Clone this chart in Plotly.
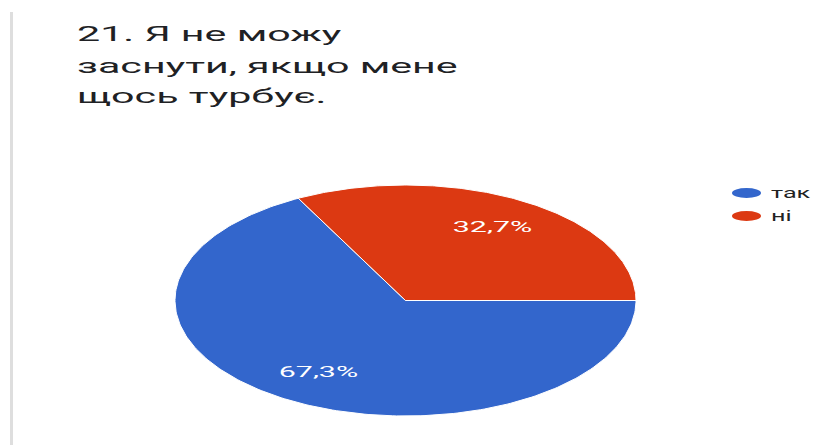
import numpy as np
import plotly.graph_objects as go

# Survey question and answers
title_lines = ["21. Я не можу", "заснути, якщо мене", "щось турбує."]
labels = ["так", "ні"]
shares = [67.3, 32.7]
colors = ["#3366cc", "#dc3912"]

W, H = 813, 445
# pie placement in pixels (centre, horizontal / vertical radius)
cx, cy, rx, ry = 405.5, 300.5, 230.5, 115.5

fig = go.Figure()

total = sum(shares)
start = 0.0  # first slice begins at 3 o'clock and runs clockwise
for lab, val, col in zip(labels, shares, colors):
    sweep = 2 * np.pi * val / total
    t = np.linspace(start, start - sweep, 240)
    xs = np.concatenate([[0.0], np.cos(t), [0.0]])
    ys = np.concatenate([[0.0], np.sin(t), [0.0]])
    fig.add_trace(go.Scatter(
        x=xs, y=ys, mode="lines", fill="toself", fillcolor=col,
        line=dict(color="white", width=1), hoverinfo="skip", showlegend=False,
    ))
    mid = start - sweep / 2
    fig.add_trace(go.Scatter(
        x=[0.73 * np.cos(mid)], y=[0.73 * np.sin(mid)], mode="text",
        text=[f"{val:.1f}%".replace(".", ",")],
        textfont=dict(color="white", size=15.5, family="Roboto"),
        hoverinfo="skip", showlegend=False,
    ))
    start -= sweep

# axes scaled so the unit pie becomes a wide ellipse
fig.update_xaxes(range=[-cx / rx, (W - cx) / rx], visible=False, fixedrange=True)
fig.update_yaxes(range=[-(H - cy) / ry, cy / ry], visible=False, fixedrange=True)

shapes = [
    # thin grey rule along the left edge
    dict(type="line", xref="paper", yref="paper", x0=11.5 / W, x1=11.5 / W,
         y0=1 - 12 / H, y1=0, line=dict(color="#dedede", width=3)),
]
annotations = []
title_y = [34, 66, 96]
for line, py in zip(title_lines, title_y):
    annotations.append(dict(
        text=line, xref="paper", yref="paper", x=75 / W, y=1 - py / H,
        xanchor="left", yanchor="middle", showarrow=False,
        font=dict(family="Roboto", size=20, color="#202124"),
    ))

legend_y = [193, 216]
for lab, col, py in zip(labels, colors, legend_y):
    shapes.append(dict(
        type="circle", xref="paper", yref="paper",
        x0=732 / W, x1=761 / W, y0=1 - (py - 5) / H, y1=1 - (py + 5) / H,
        fillcolor=col, line=dict(width=0),
    ))
    annotations.append(dict(
        text=lab, xref="paper", yref="paper", x=769 / W, y=1 - py / H,
        xanchor="left", yanchor="middle", showarrow=False,
        font=dict(family="Roboto", size=14, color="#222222"),
    ))

fig.update_layout(
    width=W, height=H, margin=dict(l=0, r=0, t=0, b=0),
    paper_bgcolor="white", plot_bgcolor="white",
    shapes=shapes, annotations=annotations, showlegend=False,
)

# widen the lettering horizontally, like the rest of the wide layout
stretch_js = """
var gd = document.getElementById('{plot_id}');
function widen(el, sx, origin) {
  el.style.transformBox = 'fill-box';
  el.style.transformOrigin = origin;
  el.style.transform = 'scaleX(' + sx + ')';
}
gd.querySelectorAll('text.annotation-text').forEach(function (t, i) {
  widen(t, i < 3 ? 2.06 : 1.8, 'left center');
});
gd.querySelectorAll('g.textpoint text').forEach(function (t) {
  widen(t, 1.96, 'center');
});
"""

fig.write_html("out.html", config={"displayModeBar": False}, post_script=stretch_js)
